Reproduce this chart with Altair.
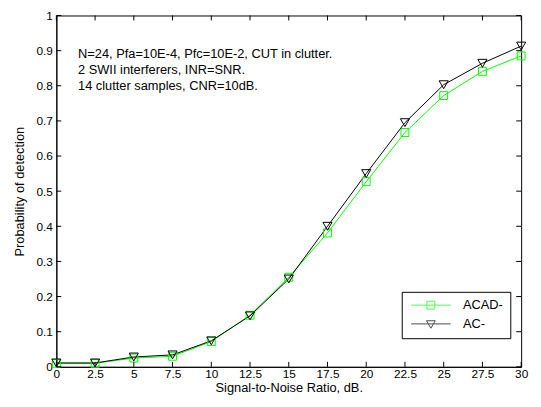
import altair as alt
import pandas as pd

# ---- data ----
snr = [0, 2.5, 5, 7.5, 10, 12.5, 15, 17.5, 20, 22.5, 25, 27.5, 30]
acad = [0.010, 0.010, 0.025, 0.030, 0.072, 0.147, 0.255, 0.381, 0.527, 0.667, 0.772, 0.841, 0.885]
ac = [0.011, 0.011, 0.028, 0.034, 0.074, 0.145, 0.250, 0.400, 0.550, 0.695, 0.803, 0.864, 0.913]
series_names = ["ACAD-", "AC-"]
series_colors = ["#00ff00", "#000000"]
x_ticks = [0, 2.5, 5, 7.5, 10, 12.5, 15, 17.5, 20, 22.5, 25, 27.5, 30]
y_ticks = [0, 0.1, 0.2, 0.3, 0.4, 0.5, 0.6, 0.7, 0.8, 0.9, 1.0]
note_lines = ["N=24, Pfa=10E-4, Pfc=10E-2, CUT in clutter.",
              "2 SWII interferers, INR=SNR.",
              "14 clutter samples, CNR=10dB."]
x_title = "Signal-to-Noise Ratio, dB."
y_title = "Probability of detection"

FONT = "Liberation Sans"
W, H = 471, 356
TICK = 5

df = pd.DataFrame({
    "snr": snr * 2,
    "pd": acad + ac,
    "series": [series_names[0]] * len(snr) + [series_names[1]] * len(snr),
})
xt = pd.DataFrame({"t": x_ticks})
yt = pd.DataFrame({"t": y_ticks})

xscale = alt.Scale(domain=[0, 30], nice=False, zero=False)
yscale = alt.Scale(domain=[0, 1], nice=False)

xaxis = alt.Axis(values=x_ticks, format=".1~f", ticks=False, grid=False, labelOverlap=False,
                 labelFont=FONT, labelFontSize=12, labelColor="black", labelPadding=2,
                 title=x_title, titleFont=FONT, titleFontSize=13, titleFontWeight="normal",
                 titleColor="black", titlePadding=2, domainColor="black", labelFlush=False)
yaxis = alt.Axis(values=y_ticks, format=".1~f", ticks=False, grid=False, labelOverlap=False,
                 labelFont=FONT, labelFontSize=12, labelColor="black", labelPadding=4,
                 title=y_title, titleFont=FONT, titleFontSize=13, titleFontWeight="normal",
                 titleColor="black", titlePadding=10, domainColor="black", labelFlush=False)

X = alt.X("snr:Q", scale=xscale, axis=xaxis)
Y = alt.Y("pd:Q", scale=yscale, axis=yaxis)
color_scale = alt.Scale(domain=series_names, range=series_colors)

lines = alt.Chart(df).mark_line(strokeWidth=1).encode(
    x=X, y=Y,
    color=alt.Color("series:N", scale=color_scale, legend=None),
    detail="series:N",
)

points = alt.Chart(df).mark_point(filled=False, strokeWidth=1, opacity=1).encode(
    x=X, y=Y,
    color=alt.Color("series:N", scale=color_scale, legend=None),
    shape=alt.Shape("series:N", scale=alt.Scale(domain=series_names, range=["square", "triangle-down"]), legend=None),
    size=alt.Size("series:N", scale=alt.Scale(domain=series_names, range=[64, 85]), legend=None),
)

legend_paths = ["M-5,0H5M-1,-1H1V1H-1Z", "M-5,0H5M-1.1,-0.8H1.1L0,1.1Z"]
legend_def = alt.Legend(title=None, orient="none", legendX=350, legendY=280,
                        strokeColor="black", fillColor="white", padding=7,
                        symbolOffset=16, labelOffset=26, rowPadding=5,
                        symbolSize=64, symbolStrokeWidth=1,
                        labelFont=FONT, labelFontSize=13, labelColor="black")
legend_layer = alt.Chart(df).transform_filter("false").mark_point(filled=False, size=64, strokeWidth=1).encode(
    x=X, y=Y,
    color=alt.Color("series:N", scale=color_scale, legend=legend_def),
    shape=alt.Shape("series:N", scale=alt.Scale(domain=series_names, range=legend_paths), legend=legend_def),
)

note = alt.Chart(pd.DataFrame({"txt": [note_lines]})).mark_text(
    align="left", baseline="middle", font=FONT, fontSize=13, color="black", lineHeight=16
).encode(x=alt.datum(1.4, scale=xscale, axis=xaxis), y=alt.datum(0.89, scale=yscale, axis=yaxis), text="txt")

XT = alt.X("t:Q", scale=xscale, axis=xaxis)
YT = alt.Y("t:Q", scale=yscale, axis=yaxis)
tick_bottom = alt.Chart(xt).mark_rule(color="black", strokeWidth=1).encode(
    x=XT, y=alt.value(H), y2=alt.value(H - TICK))
tick_top = alt.Chart(xt).mark_rule(color="black", strokeWidth=1).encode(
    x=XT, y=alt.value(0), y2=alt.value(TICK))
tick_left = alt.Chart(yt).mark_rule(color="black", strokeWidth=1).encode(
    y=YT, x=alt.value(0), x2=alt.value(TICK))
tick_right = alt.Chart(yt).mark_rule(color="black", strokeWidth=1).encode(
    y=YT, x=alt.value(W - TICK), x2=alt.value(W))

chart = alt.layer(
    lines, points, tick_bottom, tick_top, tick_left, tick_right, legend_layer, note
).resolve_scale(
    color="independent", shape="independent", size="independent"
).properties(
    width=W, height=H,
    autosize=alt.AutoSizeParams(type="none"),
    padding={"left": 49, "top": 5, "right": 12, "bottom": 30},
    background="white",
).configure_view(stroke="black", strokeWidth=1)

chart.save("out.html", embed_options={"renderer": "svg", "actions": False})
